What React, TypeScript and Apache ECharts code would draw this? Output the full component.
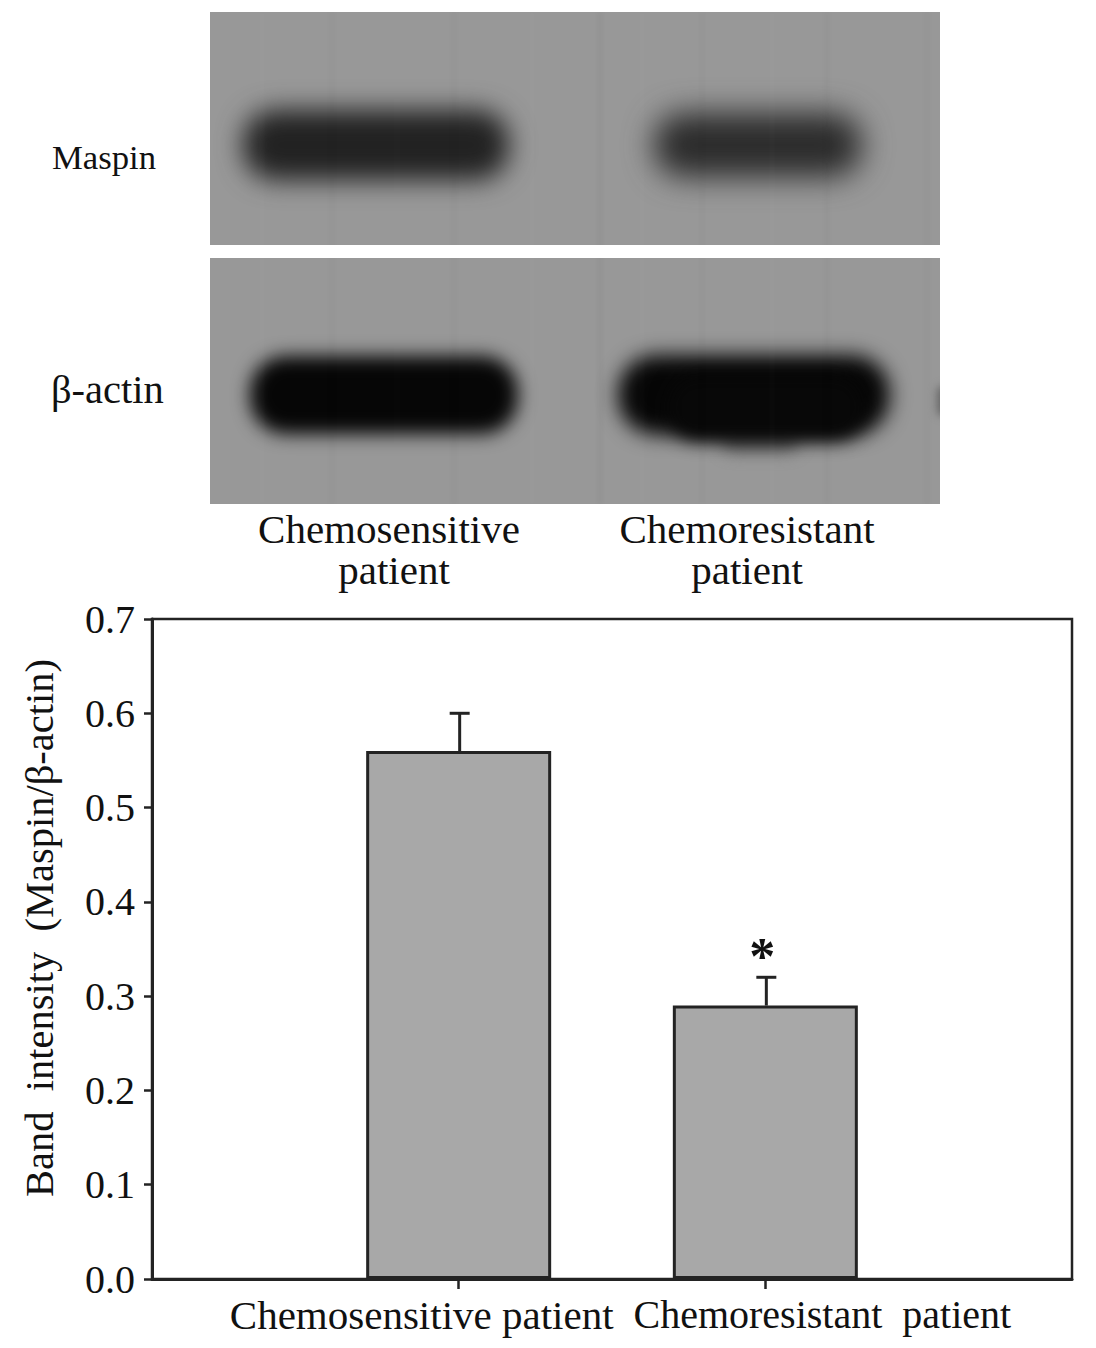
import React, { useEffect, useRef } from "react";
import * as echarts from "echarts";

const categories = ["", "Chemosensitive patient", "Chemoresistant  patient", ""];
const means = [null, 0.56, 0.29, null];
const errors = [null, 0.04, 0.03, null];
const marks = ["", "", "*", ""];
const yTicks = { min: 0, max: 0.7, interval: 0.1 };
const yTitle = "Band  intensity  (Maspin/β-actin)";
const laneLabels = [
  { text: "Maspin", x: 52, y: 157, size: 34.7 },
  { text: "β-actin", x: 51, y: 389, size: 40.5 },
];
const blotLabels = [
  { first: "Chemosensitive", second: "patient", x: 389, shift: 10 },
  { first: "Chemoresistant", second: "patient", x: 747, shift: 0 },
];
const INK = "#232323";
const SERIF = "'Liberation Serif', 'Times New Roman', serif";

// Blot panels: [x, y, w, h, radius, colour, blur]
const panelBands = [
  [243, 110, 266, 70, 32, "#222222", 13],
  [654, 113, 208, 64, 30, "#2c2c2c", 15],
  [722, 430, 76, 22, 10, "#666666", 8],
  [250, 356, 268, 78, 36, "#060606", 9],
  [618, 355, 272, 80, 38, "#060606", 10],
  [668, 375, 196, 66, 30, "#080808", 9],
  [937, 386, 14, 30, 6, "#666666", 4],
];
const streaks = [
  [260, 0.02], [330, -0.02], [395, 0.015], [452, -0.02], [530, 0.025], [598, -0.04],
  [640, 0.02], [700, -0.015], [770, 0.02], [825, -0.025], [890, 0.015], [925, -0.02],
];

function drawBlot(): string {
  const c = document.createElement("canvas");
  c.width = 730;
  c.height = 492;
  const g = c.getContext("2d") as CanvasRenderingContext2D;
  const ox = 210;
  const oy = 12;
  g.fillStyle = "#989898";
  g.fillRect(0, 0, 730, 233);
  g.fillRect(0, 246, 730, 246);
  g.save();
  g.beginPath();
  g.rect(0, 0, 730, 233);
  g.rect(0, 246, 730, 246);
  g.clip();
  panelBands.forEach(([x, y, w, h, r, col, blur]) => {
    g.filter = `blur(${blur}px)`;
    g.fillStyle = col as string;
    g.beginPath();
    (g as any).roundRect((x as number) - ox, (y as number) - oy, w, h, r);
    g.fill();
  });
  g.filter = "blur(2px)";
  streaks.forEach(([x, a]) => {
    g.fillStyle = a > 0 ? `rgba(255,255,255,${a})` : `rgba(0,0,0,${-a})`;
    g.fillRect((x as number) - ox, 0, 4, 492);
  });
  g.restore();
  return c.toDataURL("image/png");
}

export default function App() {
  const ref = useRef<HTMLDivElement>(null);
  useEffect(() => {
    const chart = echarts.init(ref.current!, null, { renderer: "svg" });
    chart.setOption({
      animation: false,
      backgroundColor: "#ffffff",
      grid: {
        left: 152, top: 619, width: 920, height: 660, show: true,
        borderColor: INK, borderWidth: 2.5, containLabel: false, outerBoundsMode: "none",
      },
      xAxis: {
        type: "category",
        data: categories,
        boundaryGap: false,
        axisLine: { lineStyle: { color: INK, width: 3 } },
        axisTick: { length: 10, interval: (i: number) => i === 1 || i === 2, lineStyle: { color: INK, width: 2.5 } },
        axisLabel: {
          interval: 0,
          margin: 15,
          color: "#111",
          fontFamily: SERIF,
          fontSize: 40,
          formatter: (v: string, i: number) => (i === 1 ? `{a|${v}}` : i === 2 ? `{b|${v}}` : ""),
          rich: {
            a: { fontFamily: SERIF, fontSize: 41, color: "#111", padding: [0, 74, 0, 0] },
            b: { fontFamily: SERIF, fontSize: 40, color: "#111", padding: [0, 0, 4, 114] },
          },
        },
      },
      yAxis: {
        type: "value",
        min: yTicks.min,
        max: yTicks.max,
        interval: yTicks.interval,
        splitLine: { show: false },
        axisLine: { show: true, lineStyle: { color: INK, width: 3 } },
        axisTick: { show: true, length: 8, lineStyle: { color: INK, width: 2.5 } },
        axisLabel: {
          margin: 17, color: "#111", fontFamily: SERIF, fontSize: 40,
          formatter: (v: number) => v.toFixed(1),
        },
        name: yTitle,
        nameLocation: "middle",
        nameGap: 92,
        nameTextStyle: { fontFamily: SERIF, fontSize: 40.5, color: "#111", padding: [0, 0, 0, 42] },
      },
      series: [
        {
          type: "bar",
          data: means,
          barWidth: 185,
          itemStyle: { color: "#a8a8a8", borderColor: INK, borderWidth: 3 },
        },
        {
          type: "custom",
          data: categories.map((_, i) => [i, means[i], errors[i]]),
          encode: { x: 0, y: 1 },
          z: 5,
          renderItem: (_p: any, api: any) => {
            const i = api.value(0);
            const m = means[i];
            const e = errors[i];
            if (m == null || e == null) return null;
            const [x, y0] = api.coord([i, m]);
            const [, y1] = api.coord([i, m + e]);
            const style = { stroke: INK, lineWidth: 3, fill: "none" };
            const children: any[] = [
              { type: "line", shape: { x1: x + 1, y1: y0, x2: x + 1, y2: y1 }, style },
              { type: "line", shape: { x1: x - 9, y1, x2: x + 11, y2: y1 }, style },
            ];
            if (marks[i]) {
              children.push({
                type: "text",
                style: {
                  text: marks[i], x: x - 3, y: y1 - 21, align: "center", verticalAlign: "middle",
                  fontFamily: "'Liberation Serif', serif", fontWeight: "bold", fontSize: 52, fill: "#111",
                },
              });
            }
            return { type: "group", children };
          },
        },
      ],
      graphic: [
        { type: "image", x: 210, y: 12, z: 1, style: { image: drawBlot(), width: 730, height: 492 } },
        ...laneLabels.map((l) => ({
          type: "text", x: l.x, y: l.y, z: 2,
          style: { text: l.text, fontFamily: SERIF, fontSize: l.size, fill: "#111", align: "left", verticalAlign: "middle" },
        })),
        ...blotLabels.map((l) => ({
          type: "text", x: l.x, y: 549, z: 2,
          style: {
            text: `{a|${l.first}}\n{b|${l.second}}`,
            align: "center",
            verticalAlign: "middle",
            rich: {
              a: { fontFamily: SERIF, fontSize: 41, lineHeight: 41, fill: "#111" },
              b: { fontFamily: SERIF, fontSize: 41, lineHeight: 41, fill: "#111", padding: [0, 0, 0, l.shift] },
            },
          },
        })),
      ],
    });
    return () => chart.dispose();
  }, []);
  return <div ref={ref} style={{ position: "absolute", left: 0, top: 0, width: 1096, height: 1348 }} />;
}
